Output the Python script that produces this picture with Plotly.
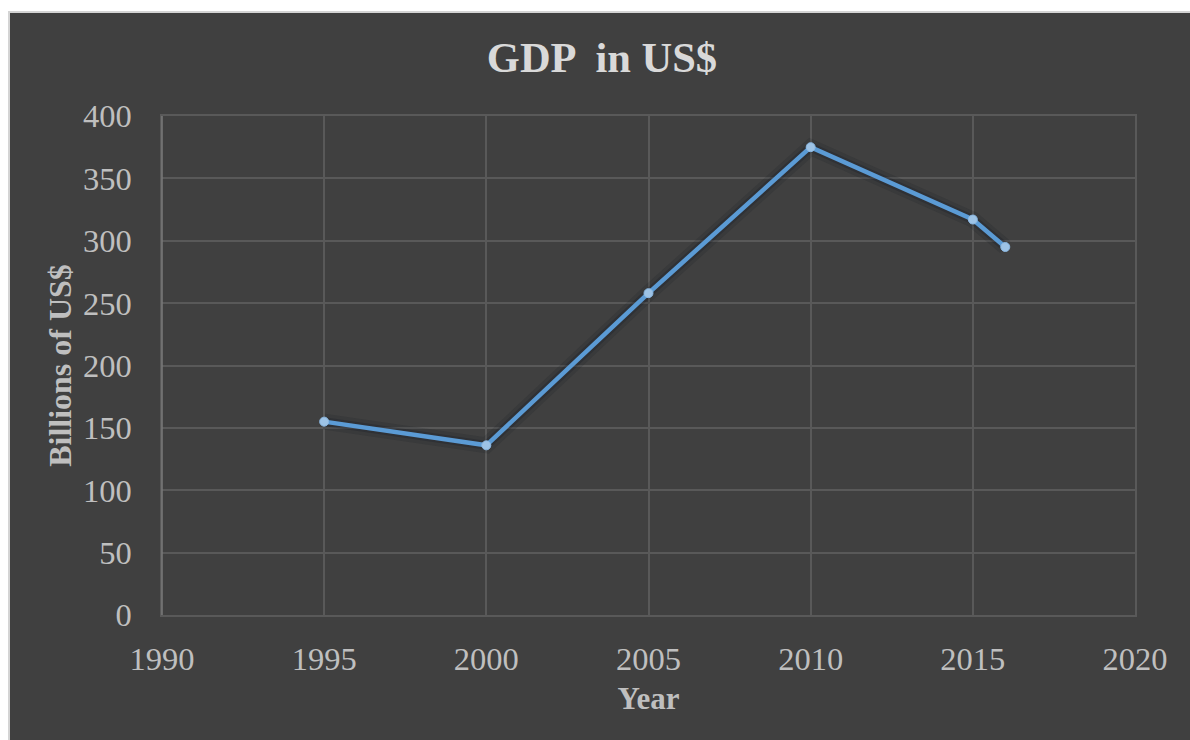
import plotly.graph_objects as go

# GDP series (billions of US$)
years = [1995, 2000, 2005, 2010, 2015, 2016]
gdp = [155, 136, 258, 375, 317, 295]

x_ticks = [1990, 1995, 2000, 2005, 2010, 2015, 2020]
y_ticks = [0, 50, 100, 150, 200, 250, 300, 350, 400]

W, H = 1190, 740
L, R, T, B = 162, 55, 116, 125
PW, PH = W - L - R, H - T - B

BG = "#404040"
GRID = "#595959"
TXT = "#bfbfbf"
SERIF = "Liberation Serif, Times New Roman, serif"


def px(xp):
    return (xp - L) / PW


def py(yp):
    return (H - B - yp) / PH


fig = go.Figure()

# soft shadow under the line
fig.add_trace(go.Scatter(
    x=years, y=gdp, mode="lines",
    line=dict(color="rgba(15,20,30,0.14)", width=16),
    hoverinfo="skip", showlegend=False,
))
fig.add_trace(go.Scatter(
    x=years, y=gdp, mode="lines",
    line=dict(color="rgba(15,20,30,0.22)", width=9),
    hoverinfo="skip", showlegend=False,
))
fig.add_trace(go.Scatter(
    x=years, y=gdp, mode="lines+markers",
    line=dict(color="#5b9bd5", width=4.5),
    marker=dict(size=9, color="#9dc3e6", line=dict(color="#8bb8e2", width=1)),
    showlegend=False,
))

shapes = [
    # white page margin on the left and top, with a light frame edge
    dict(type="rect", xref="paper", yref="paper", layer="above",
         x0=px(-2), x1=px(8), y0=py(H + 2), y1=py(-2),
         fillcolor="white", line_width=0),
    dict(type="rect", xref="paper", yref="paper", layer="above",
         x0=px(-2), x1=px(W + 2), y0=py(11), y1=py(-2),
         fillcolor="white", line_width=0),
    dict(type="line", xref="paper", yref="paper", layer="above",
         x0=px(9), x1=px(9), y0=py(11), y1=py(H + 2),
         line=dict(color="#d4d4d4", width=2)),
    dict(type="line", xref="paper", yref="paper", layer="above",
         x0=px(8), x1=px(W + 2), y0=py(12), y1=py(12),
         line=dict(color="#d4d4d4", width=2)),
    # lighter vertical axis line on the left edge of the plot
    dict(type="line", xref="paper", yref="paper", x0=0, x1=0, y0=0, y1=1,
         line=dict(color="#7a7a7a", width=1.5)),
]

fig.update_layout(
    width=W, height=H,
    margin=dict(l=L, r=R, t=T, b=B, autoexpand=False),
    paper_bgcolor=BG, plot_bgcolor=BG,
    title=dict(text="<b>GDP  in US$</b>", x=602 / W, xref="container", xanchor="center",
               y=1 - 57 / H, yanchor="middle",
               font=dict(family=SERIF, size=42.5, color="#d9d9d9")),
    shapes=shapes,
    showlegend=False,
)

fig.update_xaxes(
    range=[1990, 2020], tickvals=x_ticks, ticktext=[str(v) for v in x_ticks],
    showgrid=True, gridcolor=GRID, gridwidth=1.5,
    zeroline=False, showline=True, linecolor=GRID, linewidth=1.5, mirror=True,
    ticks="outside", ticklen=14, tickcolor=BG,
    tickfont=dict(family=SERIF, size=32.5, color=TXT),
    title=dict(text="<b>Year</b>", standoff=12,
               font=dict(family=SERIF, size=31, color=TXT)),
)
fig.update_yaxes(
    range=[0, 400], tickvals=y_ticks, ticktext=[str(v) for v in y_ticks],
    showgrid=True, gridcolor=GRID, gridwidth=1.5,
    zeroline=False, showline=True, linecolor=GRID, linewidth=1.5, mirror=True,
    ticks="outside", ticklen=22, tickcolor=BG,
    tickfont=dict(family=SERIF, size=32.5, color=TXT),
    title=dict(text="<b>Billions of US$</b>", standoff=2,
               font=dict(family=SERIF, size=32, color=TXT)),
)

fig.write_html("out.html")
